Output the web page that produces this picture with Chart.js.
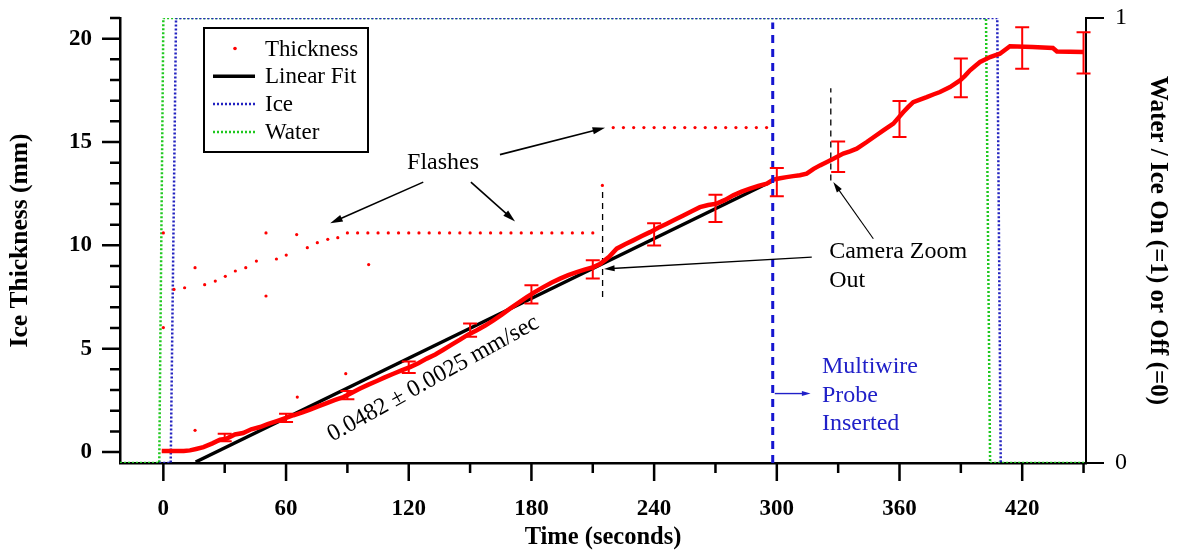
<!DOCTYPE html>
<html>
<head>
<meta charset="utf-8">
<script src="https://cdn.jsdelivr.net/npm/chart.js@4.4.0/dist/chart.umd.min.js"></script>
<style>
  html, body { margin: 0; padding: 0; background: #fff; }
</style>
</head>
<body>
<canvas id="myChart" width="1177" height="553"></canvas>
<script>
// ice thickness (seconds, mm)
const thickTime = [-0.8, 5, 10, 13, 16, 19.6, 24, 27.7, 31, 35, 39, 43, 47.3, 51, 55.5, 60, 63.6, 68, 71.7, 76,
  79.9, 84, 88, 92, 96.2, 100, 104.4, 108, 112.5, 116.5, 120.6, 124.7, 128.8, 133, 136.9, 141, 145.1, 149, 153.3, 157.4,
  161.4, 165.5, 169.5, 173.6, 177.7, 181.8, 185.8, 190, 194, 198, 202.2, 206, 210.3, 213.5, 218, 221.7, 225.8, 229.8, 234, 238,
  242, 246.2, 250.3, 254.3, 258.4, 262.4, 266.5, 270.6, 274.7, 278.7, 282.8, 286.9, 291, 295.1, 298.3, 301.6, 304.8, 308, 311.3, 314.6,
  318, 321.1, 326, 329.3, 332.5, 335.8, 339.1, 344, 348, 352.1, 357, 361.9, 364.3, 366.7, 370, 373.3, 376.5, 379.8, 384.7, 389.6,
  392, 394.5, 397, 399.4, 404.3, 409.1, 414, 425, 435, 437, 450];
const thickMm = [0.05, 0.05, 0.05, 0.08, 0.15, 0.24, 0.42, 0.6, 0.65, 0.85, 0.92, 1.1, 1.21, 1.35, 1.5, 1.65, 1.78, 1.92, 2.05, 2.22,
  2.37, 2.52, 2.66, 2.86, 3.07, 3.25, 3.44, 3.6, 3.79, 3.95, 4.11, 4.3, 4.52, 4.72, 4.95, 5.2, 5.44, 5.68, 5.89, 6.12,
  6.37, 6.65, 6.94, 7.22, 7.5, 7.75, 7.98, 8.2, 8.39, 8.56, 8.71, 8.83, 8.95, 9.1, 9.45, 9.84, 10.05, 10.24, 10.45, 10.64,
  10.85, 11.05, 11.25, 11.45, 11.65, 11.85, 11.95, 12.02, 12.2, 12.42, 12.6, 12.74, 12.88, 12.99, 13.18, 13.25, 13.3, 13.35, 13.39, 13.47,
  13.7, 13.87, 14.11, 14.28, 14.44, 14.55, 14.68, 15.0, 15.28, 15.56, 15.89, 16.45, 16.7, 16.93, 17.05, 17.17, 17.3, 17.42, 17.66, 17.98,
  18.2, 18.47, 18.68, 18.87, 19.11, 19.27, 19.63, 19.6, 19.55, 19.38, 19.35];

// stray readings during the flashes
const flashTime = [0, 0, 5.2, 10.4, 15.5, 15.5, 20.2, 25.4, 30.3, 35.2, 40.3, 45.5, 50.2, 50.2, 55.3, 60.1, 65.2, 65.5, 70.4, 75.3,
  80.4, 85.3, 89.2, 100.4,
  90, 95, 100, 105, 110, 115, 120, 125, 130, 135, 140, 145, 150, 155, 160, 165, 170, 175, 180, 185, 190, 195, 200, 205, 210,
  214.7,
  220, 225, 230, 235, 240, 245, 250, 255, 260, 265, 270, 275, 280, 285, 290, 295];
const flashMm = [10.6, 6.02, 7.87, 7.95, 8.92, 1.05, 8.1, 8.27, 8.5, 8.76, 8.92, 9.24, 10.6, 7.55, 9.34, 9.53, 10.52, 2.66, 9.89, 10.13,
  10.29, 10.37, 3.79, 9.07,
  10.6, 10.6, 10.6, 10.6, 10.6, 10.6, 10.6, 10.6, 10.6, 10.6, 10.6, 10.6, 10.6, 10.6, 10.6, 10.6, 10.6, 10.6, 10.6, 10.6, 10.6, 10.6, 10.6, 10.6, 10.6,
  12.9,
  15.7, 15.7, 15.7, 15.7, 15.7, 15.7, 15.7, 15.7, 15.7, 15.7, 15.7, 15.7, 15.7, 15.7, 15.7, 15.7];

// error bars every 30 s
const errTime = [30, 60, 90, 120, 150, 180, 210, 240, 270, 300, 330, 360, 390, 420, 450];
const errMm   = [0.7, 1.65, 2.75, 4.1, 5.9, 7.63, 8.84, 10.53, 11.79, 13.06, 14.29, 16.11, 18.1, 19.55, 19.31];
const errHalf = [0.18, 0.2, 0.2, 0.28, 0.32, 0.44, 0.44, 0.54, 0.66, 0.68, 0.74, 0.87, 0.94, 1.0, 1.0];

// linear fit 0.0482 mm/sec
const fitTime = [15.8, 298.3];
const fitMm = [-0.48, 13.14];

// on/off signals (right axis)
const iceTime = [-2, 3.6, 6.2, 407.8, 409.5];
const iceOn = [0, 0, 1, 1, 0];
const waterTime = [-21.2, -2, 0, 402.3, 404.3, 451.2];
const waterOn = [0, 0, 1, 1, 0, 0];

// markers
const probeTime = [298, 298];
const probeOn = [0, 0.99];
const zoom1Time = [214.8, 214.8];
const zoom1Mm = [7.5, 12.66];
const zoom2Time = [326.4, 326.4];
const zoom2Mm = [13.14, 17.6];

const xTickVals = [0, 60, 120, 180, 240, 300, 360, 420];
const xMinorVals = [30, 90, 150, 210, 270, 330, 390, 450];
const yTickVals = [0, 5, 10, 15, 20];
const yMinorVals = [1, 2, 3, 4, 6, 7, 8, 9, 11, 12, 13, 14, 16, 17, 18, 19, 21];
const y2TickVals = [0, 1];

const SERIF = "'Liberation Serif', 'Times New Roman', serif";
Chart.defaults.font.family = SERIF;
Chart.defaults.color = '#000';

function pts(xs, ys) {
  return xs.map((x, i) => ({x: x, y: ys[i]}));
}

function arrow(ctx, x1, y1, x2, y2, lw, hl) {
  const a = Math.atan2(y2 - y1, x2 - x1);
  ctx.lineWidth = lw;
  ctx.beginPath();
  ctx.moveTo(x1, y1);
  ctx.lineTo(x2 - Math.cos(a) * hl * 0.7, y2 - Math.sin(a) * hl * 0.7);
  ctx.stroke();
  ctx.beginPath();
  ctx.moveTo(x2, y2);
  ctx.lineTo(x2 - hl * Math.cos(a - 0.28), y2 - hl * Math.sin(a - 0.28));
  ctx.lineTo(x2 - hl * Math.cos(a + 0.28), y2 - hl * Math.sin(a + 0.28));
  ctx.closePath();
  ctx.fill();
}

function noPad(s) {
  s.paddingTop = 0; s.paddingBottom = 0; s.paddingLeft = 0; s.paddingRight = 0;
}

// tick marks (major/minor lengths differ), error bars, legend box, notes
const extras = {
  id: 'extras',
  afterDatasetsDraw(chart) {
    const ctx = chart.ctx;
    const {x, y} = chart.scales;
    ctx.save();
    ctx.strokeStyle = '#ff0000';
    ctx.lineWidth = 2;
    errTime.forEach((t, i) => {
      const px = x.getPixelForValue(t);
      const top = y.getPixelForValue(errMm[i] + errHalf[i]);
      const bot = y.getPixelForValue(errMm[i] - errHalf[i]);
      ctx.beginPath();
      ctx.moveTo(px, top); ctx.lineTo(px, bot);
      ctx.moveTo(px - 7, top); ctx.lineTo(px + 7, top);
      ctx.moveTo(px - 7, bot); ctx.lineTo(px + 7, bot);
      ctx.stroke();
    });
    ctx.restore();
  },
  afterDraw(chart) {
    const ctx = chart.ctx;
    const {x, y, y2} = chart.scales;
    const area = chart.chartArea;
    ctx.save();
    ctx.strokeStyle = '#000';
    ctx.fillStyle = '#000';
    ctx.lineWidth = 2.5;
    ctx.beginPath();
    xTickVals.forEach(v => { const p = x.getPixelForValue(v); ctx.moveTo(p, area.bottom); ctx.lineTo(p, area.bottom + 18); });
    xMinorVals.forEach(v => { const p = x.getPixelForValue(v); ctx.moveTo(p, area.bottom); ctx.lineTo(p, area.bottom + 10); });
    yTickVals.forEach(v => { const p = y.getPixelForValue(v); ctx.moveTo(area.left, p); ctx.lineTo(area.left - 18, p); });
    yMinorVals.forEach(v => { const p = y.getPixelForValue(v); ctx.moveTo(area.left, p); ctx.lineTo(area.left - 10, p); });
    ctx.stroke();
    ctx.lineWidth = 2;
    ctx.beginPath();
    y2TickVals.forEach(v => { const p = y2.getPixelForValue(v); ctx.moveTo(area.right, p); ctx.lineTo(area.right + 18, p); });
    ctx.stroke();

    // legend box
    const lg = {l: 204, t: 28, r: 368, b: 152};
    ctx.lineWidth = 2;
    ctx.fillStyle = '#fff';
    ctx.fillRect(lg.l, lg.t, lg.r - lg.l, lg.b - lg.t);
    ctx.strokeRect(lg.l, lg.t, lg.r - lg.l, lg.b - lg.t);
    const rows = chart.data.datasets.filter(d => d.inLegend);
    rows.forEach((d, i) => {
      const cy = 48.5 + i * 27.8;
      ctx.save();
      if (d.legendDot) {
        ctx.fillStyle = d.backgroundColor;
        ctx.beginPath(); ctx.arc(235, cy, 1.8, 0, Math.PI * 2); ctx.fill();
      } else {
        ctx.strokeStyle = d.borderColor;
        ctx.lineWidth = d.borderWidth;
        ctx.setLineDash(d.borderDash || []);
        ctx.beginPath(); ctx.moveTo(213, cy); ctx.lineTo(255, cy); ctx.stroke();
      }
      ctx.restore();
      ctx.fillStyle = '#000';
      ctx.font = '23px ' + SERIF;
      ctx.textAlign = 'left';
      ctx.textBaseline = 'middle';
      ctx.fillText(d.label, 265, cy + 1);
    });

    // annotations
    const X = v => x.getPixelForValue(v);
    const Y = v => y.getPixelForValue(v);
    ctx.fillStyle = '#000';
    ctx.strokeStyle = '#000';
    ctx.font = '24px ' + SERIF;
    ctx.textAlign = 'center';
    ctx.textBaseline = 'middle';
    ctx.fillText('Flashes', X(136.8), Y(14.0));
    arrow(ctx, X(127.1), Y(13.06), X(81.6), Y(11.07), 1.6, 13);
    arrow(ctx, X(150.4), Y(13.06), X(172), Y(11.16), 1.6, 13);
    arrow(ctx, X(164.6), Y(14.39), X(216), Y(15.69), 1.6, 13);

    ctx.textAlign = 'left';
    ctx.fillText('Camera Zoom', X(325.6), Y(9.69));
    ctx.fillText('Out', X(325.6), Y(8.31));
    arrow(ctx, X(317.1), Y(9.43), X(215.5), Y(8.86), 1.3, 11);
    arrow(ctx, X(347.2), Y(10.32), X(327.6), Y(13.06), 1.1, 11);

    ctx.fillStyle = '#2020c8';
    ctx.strokeStyle = '#2020c8';
    ctx.fillText('Multiwire', X(322.1), Y(4.11));
    ctx.fillText('Probe', X(322.1), Y(2.74));
    ctx.fillText('Inserted', X(322.1), Y(1.37));
    arrow(ctx, X(299), Y(2.83), X(316.5), Y(2.83), 1.4, 9);

    ctx.save();
    ctx.fillStyle = '#000';
    ctx.translate(X(132.0), Y(3.55));
    ctx.rotate(-29 * Math.PI / 180);
    ctx.textAlign = 'center';
    ctx.fillText('0.0482 \u00b1 0.0025 mm/sec', 0, 0);
    ctx.restore();
    ctx.restore();
  }
};

const ctx = document.getElementById('myChart');
window.myChart = new Chart(ctx, {
  type: 'scatter',
  data: {
    datasets: [
      { label: 'Probe', data: pts(probeTime, probeOn), yAxisID: 'y2', showLine: true,
        borderColor: '#1515d0', borderWidth: 3, borderDash: [8, 6], pointRadius: 0 },
      { label: 'Thickness', inLegend: true, legendDot: true, data: pts(thickTime, thickMm), yAxisID: 'y', showLine: true,
        borderColor: '#ff0000', backgroundColor: '#ff0000', borderWidth: 4.5, pointRadius: 0 },
      { label: 'Flash points', data: pts(flashTime, flashMm), yAxisID: 'y', showLine: false,
        backgroundColor: '#ff0000', borderColor: '#ff0000', pointRadius: 1.6, borderWidth: 0 },
      { label: 'Linear Fit', inLegend: true, data: pts(fitTime, fitMm), yAxisID: 'y', showLine: true,
        borderColor: '#000000', borderWidth: 3.5, pointRadius: 0 },
      { label: 'Camera zoom 1', data: pts(zoom1Time, zoom1Mm), yAxisID: 'y', showLine: true,
        borderColor: '#000000', borderWidth: 1.3, borderDash: [6, 5], pointRadius: 0 },
      { label: 'Camera zoom 2', data: pts(zoom2Time, zoom2Mm), yAxisID: 'y', showLine: true,
        borderColor: '#000000', borderWidth: 1.3, borderDash: [6, 5], pointRadius: 0 },
      { label: 'Ice', inLegend: true, data: pts(iceTime, iceOn), yAxisID: 'y2', showLine: true,
        borderColor: '#2222c0', borderWidth: 2.5, borderDash: [2, 2], pointRadius: 0 },
      { label: 'Water', inLegend: true, data: pts(waterTime, waterOn), yAxisID: 'y2', showLine: true,
        borderColor: '#1fc81f', borderWidth: 2.5, borderDash: [2, 2], pointRadius: 0 }
    ]
  },
  options: {
    responsive: false,
    animation: false,
    devicePixelRatio: 1,
    layout: { padding: { top: 18, left: 0, right: 0, bottom: 0 } },
    plugins: { legend: { display: false }, tooltip: { enabled: false } },
    scales: {
      x: {
        type: 'linear', position: 'bottom', min: -21.2, max: 451.2,
        afterBuildTicks: s => { s.ticks = xTickVals.map(v => ({value: v})); },
        afterFit: s => { s.height = 90; noPad(s); },
        grid: { display: false, drawTicks: false },
        border: { display: true, color: '#000', width: 2.5 },
        ticks: { color: '#000', font: { size: 23, weight: 'bold' }, padding: 32, maxRotation: 0, autoSkip: false },
        title: { display: true, text: 'Time (seconds)', color: '#000',
          font: { size: 24.5, weight: 'bold' }, padding: { top: 0, bottom: 1 } }
      },
      y: {
        type: 'linear', position: 'left', min: -0.53, max: 21,
        afterBuildTicks: s => { s.ticks = yTickVals.map(v => ({value: v})); },
        afterFit: s => { s.width = 120; noPad(s); },
        grid: { display: false, drawTicks: false },
        border: { display: true, color: '#000', width: 2.5 },
        ticks: { color: '#000', font: { size: 23, weight: 'bold' }, padding: 28 },
        title: { display: true, text: 'Ice Thickness (mm)', color: '#000',
          font: { size: 25.5, weight: 'bold' }, padding: { top: 5, bottom: 0 } }
      },
      y2: {
        type: 'linear', position: 'right', min: 0, max: 1,
        afterBuildTicks: s => { s.ticks = y2TickVals.map(v => ({value: v})); },
        afterFit: s => { s.width = 91; noPad(s); },
        grid: { display: false, drawTicks: false },
        border: { display: true, color: '#000', width: 2 },
        ticks: { color: '#000', font: { size: 24 }, padding: 29 },
        title: { display: true, text: 'Water / Ice On (=1) or Off (=0)', color: '#000',
          font: { size: 25, weight: 'bold' }, padding: { top: 5, bottom: 0 } }
      }
    }
  },
  plugins: [extras]
});
</script>
</body>
</html>
